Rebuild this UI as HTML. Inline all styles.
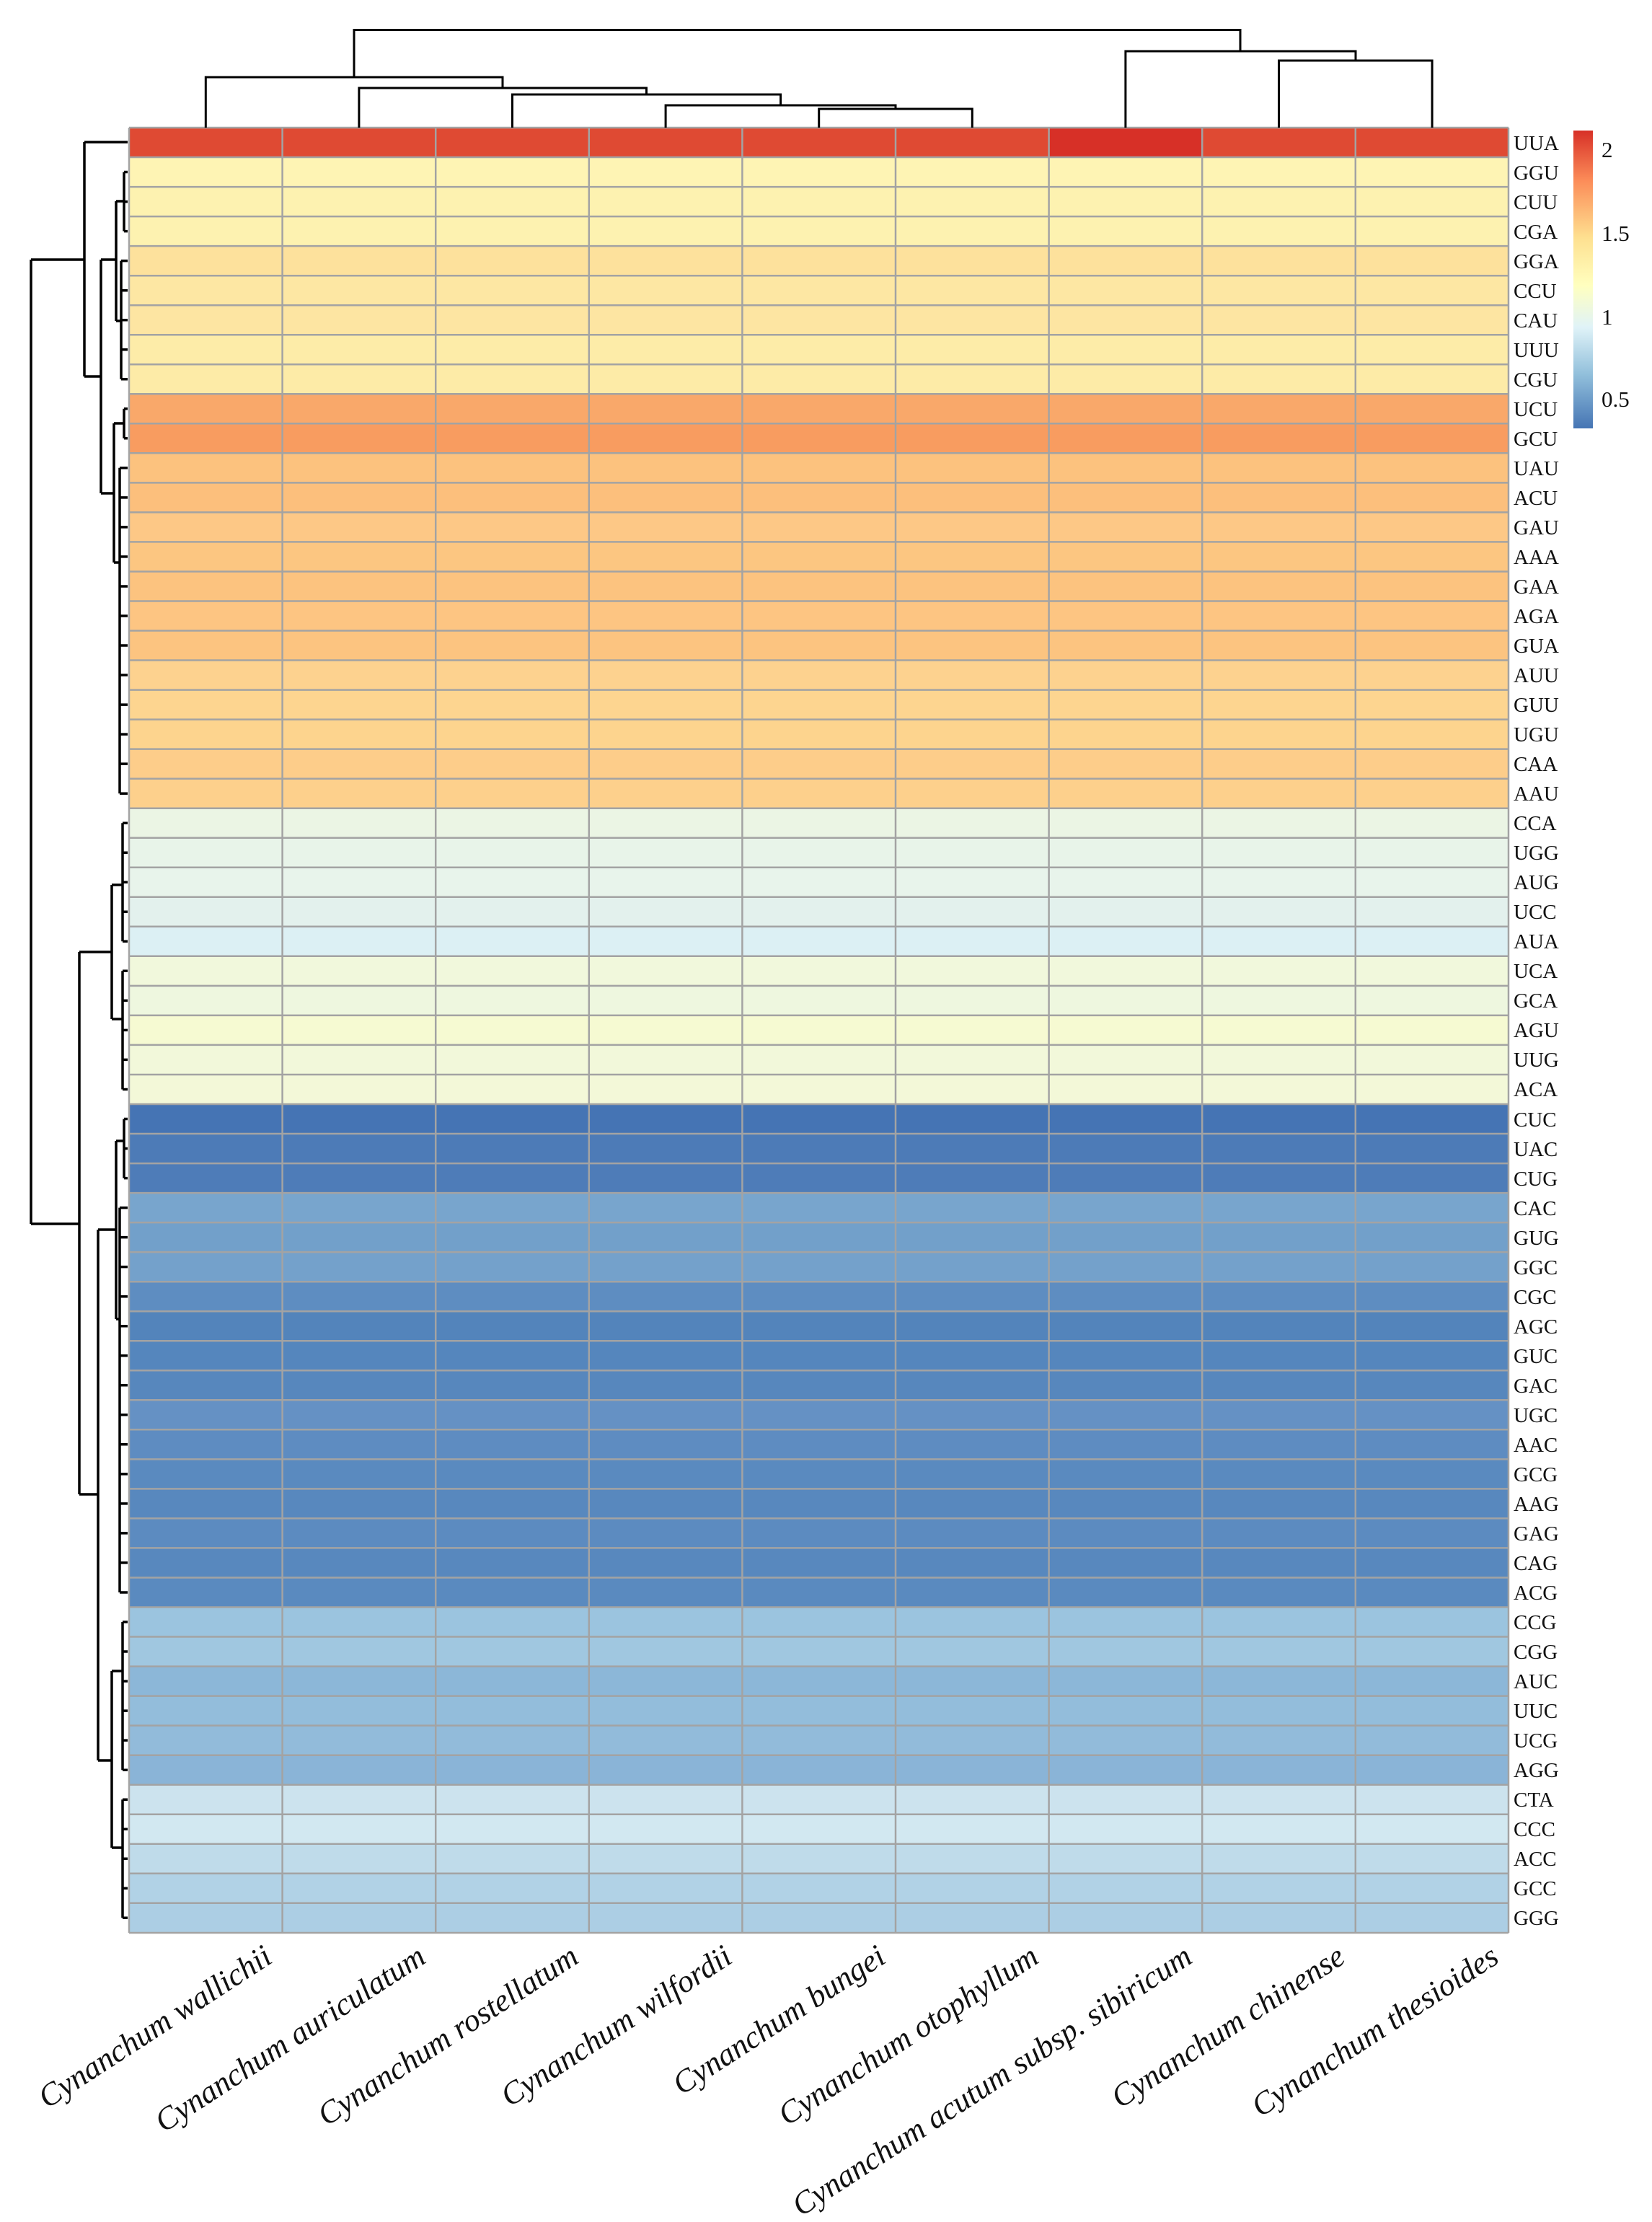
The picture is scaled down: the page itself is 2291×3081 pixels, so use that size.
<!DOCTYPE html>
<html><head><meta charset="utf-8"><style>html,body{margin:0;padding:0;background:#fff}svg{display:block}</style></head>
<body>
<svg width="2291" height="3081" viewBox="0 0 2291 3081" xmlns="http://www.w3.org/2000/svg">
<defs>
<linearGradient id="lg" x1="0" y1="0" x2="0" y2="1">
<stop offset="0" stop-color="#d73027"/><stop offset="0.17" stop-color="#fc8d59"/><stop offset="0.36" stop-color="#fee090"/><stop offset="0.52" stop-color="#ffffbf"/><stop offset="0.66" stop-color="#e0f3f8"/><stop offset="0.82" stop-color="#91bfdb"/><stop offset="1" stop-color="#4575b4"/>
</linearGradient>
</defs>
<g shape-rendering="crispEdges">
<rect x="179" y="177.0" width="1913" height="41.1" fill="#df4a33"/>
<rect x="1454.6" y="177.0" width="212.6" height="41.1" fill="#d73027"/>
<rect x="179" y="218.0" width="1913" height="41.1" fill="#fef4b4"/>
<rect x="179" y="259.1" width="1913" height="41.1" fill="#fdf2b0"/>
<rect x="179" y="300.1" width="1913" height="41.1" fill="#fdf2b0"/>
<rect x="179" y="341.1" width="1913" height="41.1" fill="#fde19c"/>
<rect x="179" y="382.2" width="1913" height="41.1" fill="#fde7a3"/>
<rect x="179" y="423.2" width="1913" height="41.1" fill="#fde5a2"/>
<rect x="179" y="464.2" width="1913" height="41.1" fill="#fdeca8"/>
<rect x="179" y="505.2" width="1913" height="41.1" fill="#fdeba7"/>
<rect x="179" y="546.3" width="1913" height="41.1" fill="#f9a86a"/>
<rect x="179" y="587.3" width="1913" height="41.1" fill="#f89c60"/>
<rect x="179" y="628.3" width="1913" height="41.1" fill="#fcc27e"/>
<rect x="179" y="669.4" width="1913" height="41.1" fill="#fcbf7c"/>
<rect x="179" y="710.4" width="1913" height="41.1" fill="#fdc886"/>
<rect x="179" y="751.4" width="1913" height="41.1" fill="#fcc681"/>
<rect x="179" y="792.5" width="1913" height="41.1" fill="#fcc37f"/>
<rect x="179" y="833.5" width="1913" height="41.1" fill="#fdc582"/>
<rect x="179" y="874.5" width="1913" height="41.1" fill="#fcc480"/>
<rect x="179" y="915.5" width="1913" height="41.1" fill="#fdd28f"/>
<rect x="179" y="956.6" width="1913" height="41.1" fill="#fdd590"/>
<rect x="179" y="997.6" width="1913" height="41.1" fill="#fdd48e"/>
<rect x="179" y="1038.6" width="1913" height="41.1" fill="#fdcd8a"/>
<rect x="179" y="1079.7" width="1913" height="41.1" fill="#fdd08c"/>
<rect x="179" y="1120.7" width="1913" height="41.1" fill="#ebf5e4"/>
<rect x="179" y="1161.7" width="1913" height="41.1" fill="#e8f4e9"/>
<rect x="179" y="1202.8" width="1913" height="41.1" fill="#e8f4eb"/>
<rect x="179" y="1243.8" width="1913" height="41.1" fill="#e3f1ed"/>
<rect x="179" y="1284.8" width="1913" height="41.1" fill="#dcf0f4"/>
<rect x="179" y="1325.8" width="1913" height="41.1" fill="#f1f8dc"/>
<rect x="179" y="1366.9" width="1913" height="41.1" fill="#eef7df"/>
<rect x="179" y="1407.9" width="1913" height="41.1" fill="#f6fad2"/>
<rect x="179" y="1448.9" width="1913" height="41.1" fill="#f2f8da"/>
<rect x="179" y="1490.0" width="1913" height="41.1" fill="#f3f8d8"/>
<rect x="179" y="1531.0" width="1913" height="41.1" fill="#4574b4"/>
<rect x="179" y="1572.0" width="1913" height="41.1" fill="#4d7bb7"/>
<rect x="179" y="1613.1" width="1913" height="41.1" fill="#4e7cb8"/>
<rect x="179" y="1654.1" width="1913" height="41.1" fill="#78a5cd"/>
<rect x="179" y="1695.1" width="1913" height="41.1" fill="#72a0ca"/>
<rect x="179" y="1736.1" width="1913" height="41.1" fill="#74a1cb"/>
<rect x="179" y="1777.2" width="1913" height="41.1" fill="#5e8dc1"/>
<rect x="179" y="1818.2" width="1913" height="41.1" fill="#5384bb"/>
<rect x="179" y="1859.2" width="1913" height="41.1" fill="#5586bd"/>
<rect x="179" y="1900.3" width="1913" height="41.1" fill="#5787bd"/>
<rect x="179" y="1941.3" width="1913" height="41.1" fill="#6591c4"/>
<rect x="179" y="1982.3" width="1913" height="41.1" fill="#5e8cc1"/>
<rect x="179" y="2023.4" width="1913" height="41.1" fill="#5a8abf"/>
<rect x="179" y="2064.4" width="1913" height="41.1" fill="#5888be"/>
<rect x="179" y="2105.4" width="1913" height="41.1" fill="#5c8bc0"/>
<rect x="179" y="2146.4" width="1913" height="41.1" fill="#5888be"/>
<rect x="179" y="2187.5" width="1913" height="41.1" fill="#5a8abf"/>
<rect x="179" y="2228.5" width="1913" height="41.1" fill="#9bc4df"/>
<rect x="179" y="2269.5" width="1913" height="41.1" fill="#a0c7e0"/>
<rect x="179" y="2310.6" width="1913" height="41.1" fill="#8cb7d8"/>
<rect x="179" y="2351.6" width="1913" height="41.1" fill="#93bddb"/>
<rect x="179" y="2392.6" width="1913" height="41.1" fill="#92bbda"/>
<rect x="179" y="2433.7" width="1913" height="41.1" fill="#8ab4d7"/>
<rect x="179" y="2474.7" width="1913" height="41.1" fill="#cce3ee"/>
<rect x="179" y="2515.7" width="1913" height="41.1" fill="#d2e8f1"/>
<rect x="179" y="2556.7" width="1913" height="41.1" fill="#bfdbea"/>
<rect x="179" y="2597.8" width="1913" height="41.1" fill="#b1d2e6"/>
<rect x="179" y="2638.8" width="1913" height="41.1" fill="#accee4"/>
</g>
<g stroke="#a3a3a3" stroke-width="2.5" fill="none">
<path d="M179 177V2680M391.6 177V2680M604.2 177V2680M816.8 177V2680M1029.4 177V2680M1242 177V2680M1454.6 177V2680M1667.2 177V2680M1879.8 177V2680M2092 177V2680"/>
<path d="M179 177H2092M179 218H2092M179 259.1H2092M179 300.1H2092M179 341.1H2092M179 382.2H2092M179 423.2H2092M179 464.2H2092M179 505.2H2092M179 546.3H2092M179 587.3H2092M179 628.3H2092M179 669.4H2092M179 710.4H2092M179 751.4H2092M179 792.5H2092M179 833.5H2092M179 874.5H2092M179 915.5H2092M179 956.6H2092M179 997.6H2092M179 1038.6H2092M179 1079.7H2092M179 1120.7H2092M179 1161.7H2092M179 1202.8H2092M179 1243.8H2092M179 1284.8H2092M179 1325.8H2092M179 1366.9H2092M179 1407.9H2092M179 1448.9H2092M179 1490H2092M179 1531H2092M179 1572H2092M179 1613.1H2092M179 1654.1H2092M179 1695.1H2092M179 1736.1H2092M179 1777.2H2092M179 1818.2H2092M179 1859.2H2092M179 1900.3H2092M179 1941.3H2092M179 1982.3H2092M179 2023.4H2092M179 2064.4H2092M179 2105.4H2092M179 2146.4H2092M179 2187.5H2092M179 2228.5H2092M179 2269.5H2092M179 2310.6H2092M179 2351.6H2092M179 2392.6H2092M179 2433.7H2092M179 2474.7H2092M179 2515.7H2092M179 2556.7H2092M179 2597.8H2092M179 2638.8H2092M179 2680H2092"/>
</g>
<!-- top dendrogram -->
<g stroke="#000" stroke-width="3" fill="none">
<path d="M1135.7 177V151H1348.3V177"/>
<path d="M923.1 177V146H1242V151"/>
<path d="M710.5 177V131H1082.6V146"/>
<path d="M497.9 177V122H896.5V131"/>
<path d="M285.3 177V107H697V122"/>
<path d="M1773.5 177V84H1986.1V177"/>
<path d="M1560.9 177V71H1880V84"/>
<path d="M491 107V41.5H1720V71"/>
</g>
<!-- left dendrogram -->
<g stroke="#000" stroke-width="3.5" fill="none">
<path d="M43 360V1697"/>
<path d="M43 360H117M117 197V522M117 197H177"/>
<path d="M117 522H140M140 360V684"/>
<path d="M140 360H161M161 279V445"/>
<path d="M140 684H158M158 587V780"/>
<path d="M43 1697H110M110 1320V2072"/>
<path d="M110 1320H155M155 1227V1413"/>
<path d="M110 2072H136M136 1705V2441"/>
<path d="M136 1705H161M161 1582V1829"/>
<path d="M136 2441H155M155 2317V2562"/>
<path d="M161 279H172M172 238.5V320.6M172 238.5H177M172 279.6H177M172 320.6H177"/>
<path d="M161 445H168M168 361.6V525.7M168 361.6H177M168 402.7H177M168 443.7H177M168 484.7H177M168 525.7H177"/>
<path d="M158 587H172M172 566.8V607.8M172 566.8H177M172 607.8H177"/>
<path d="M158 780H166M166 648.8V1100.2M166 648.8H177M166 689.9H177M166 730.9H177M166 771.9H177M166 813H177M166 854H177M166 895H177M166 936H177M166 977.1H177M166 1018.1H177M166 1059.1H177M166 1100.2H177"/>
<path d="M155 1227H170M170 1141.2V1305.3M170 1141.2H177M170 1182.2H177M170 1223.3H177M170 1264.3H177M170 1305.3H177"/>
<path d="M155 1413H170M170 1346.3V1510.5M170 1346.3H177M170 1387.4H177M170 1428.4H177M170 1469.4H177M170 1510.5H177"/>
<path d="M161 1582H172M172 1551.5V1633.6M172 1551.5H177M172 1592.5H177M172 1633.6H177"/>
<path d="M161 1829H166M166 1674.6V2208M166 1674.6H177M166 1715.6H177M166 1756.6H177M166 1797.7H177M166 1838.7H177M166 1879.7H177M166 1920.8H177M166 1961.8H177M166 2002.8H177M166 2043.9H177M166 2084.9H177M166 2125.9H177M166 2166.9H177M166 2208H177"/>
<path d="M155 2317H170M170 2249V2454.2M170 2249H177M170 2290H177M170 2331.1H177M170 2372.1H177M170 2413.1H177M170 2454.2H177"/>
<path d="M155 2562H170M170 2495.2V2659.3M170 2495.2H177M170 2536.2H177M170 2577.2H177M170 2618.3H177M170 2659.3H177"/>
</g>
<!-- row labels -->
<g font-family="'Liberation Serif', serif" font-size="29" fill="#111">
<text x="2099" y="208">UUA</text><text x="2099" y="249">GGU</text><text x="2099" y="290">CUU</text><text x="2099" y="331">CGA</text><text x="2099" y="372">GGA</text><text x="2099" y="413">CCU</text><text x="2099" y="454">CAU</text><text x="2099" y="495">UUU</text><text x="2099" y="536">CGU</text><text x="2099" y="577">UCU</text><text x="2099" y="618">GCU</text><text x="2099" y="659">UAU</text><text x="2099" y="700">ACU</text><text x="2099" y="741">GAU</text><text x="2099" y="782">AAA</text><text x="2099" y="823">GAA</text><text x="2099" y="864">AGA</text><text x="2099" y="905">GUA</text><text x="2099" y="946">AUU</text><text x="2099" y="987">GUU</text><text x="2099" y="1028">UGU</text><text x="2099" y="1069">CAA</text><text x="2099" y="1110">AAU</text><text x="2099" y="1151">CCA</text><text x="2099" y="1192">UGG</text><text x="2099" y="1233">AUG</text><text x="2099" y="1274">UCC</text><text x="2099" y="1315">AUA</text><text x="2099" y="1356">UCA</text><text x="2099" y="1397">GCA</text><text x="2099" y="1438">AGU</text><text x="2099" y="1479">UUG</text><text x="2099" y="1520">ACA</text><text x="2099" y="1562">CUC</text><text x="2099" y="1603">UAC</text><text x="2099" y="1644">CUG</text><text x="2099" y="1685">CAC</text><text x="2099" y="1726">GUG</text><text x="2099" y="1767">GGC</text><text x="2099" y="1808">CGC</text><text x="2099" y="1849">AGC</text><text x="2099" y="1890">GUC</text><text x="2099" y="1931">GAC</text><text x="2099" y="1972">UGC</text><text x="2099" y="2013">AAC</text><text x="2099" y="2054">GCG</text><text x="2099" y="2095">AAG</text><text x="2099" y="2136">GAG</text><text x="2099" y="2177">CAG</text><text x="2099" y="2218">ACG</text><text x="2099" y="2259">CCG</text><text x="2099" y="2300">CGG</text><text x="2099" y="2341">AUC</text><text x="2099" y="2382">UUC</text><text x="2099" y="2423">UCG</text><text x="2099" y="2464">AGG</text><text x="2099" y="2505">CTA</text><text x="2099" y="2546">CCC</text><text x="2099" y="2587">ACC</text><text x="2099" y="2628">GCC</text><text x="2099" y="2669">GGG</text>
</g>
<!-- legend -->
<rect x="2182" y="181" width="27" height="413" fill="url(#lg)"/>
<g font-family="'Liberation Serif', serif" font-size="31" fill="#111">
<text x="2221" y="218">2</text><text x="2221" y="334">1.5</text><text x="2221" y="450">1</text><text x="2221" y="564">0.5</text>
</g>
<!-- column labels -->
<g font-family="'Liberation Serif', serif" font-size="44" font-style="italic" fill="#111" text-anchor="end">
<text transform="translate(380,2720) rotate(-33)">Cynanchum wallichii</text>
<text transform="translate(593,2720) rotate(-33)">Cynanchum auriculatum</text>
<text transform="translate(805,2720) rotate(-33)">Cynanchum rostellatum</text>
<text transform="translate(1018,2720) rotate(-33)">Cynanchum wilfordii</text>
<text transform="translate(1231,2720) rotate(-33)">Cynanchum bungei</text>
<text transform="translate(1443,2720) rotate(-33)">Cynanchum otophyllum</text>
<text transform="translate(1656,2720) rotate(-33)">Cynanchum acutum subsp. sibiricum</text>
<text transform="translate(1868,2720) rotate(-33)">Cynanchum chinense</text>
<text transform="translate(2081,2720) rotate(-33)">Cynanchum thesioides</text>
</g>
</svg>
</body></html>
